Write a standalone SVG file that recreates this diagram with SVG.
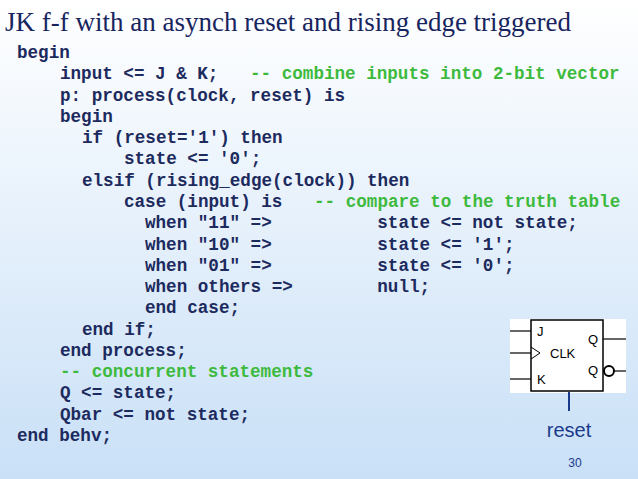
<svg xmlns="http://www.w3.org/2000/svg" width="638" height="479" viewBox="0 0 638 479">
<defs><linearGradient id="bg" x1="0" y1="0" x2="0" y2="1"><stop offset="0" stop-color="#ffffff"/><stop offset="1" stop-color="#c9e0f7"/></linearGradient></defs>
<style>
.c{font-family:"Liberation Mono",monospace;font-weight:bold;font-size:17.6px;fill:#1c2a5e;white-space:pre}
.g{fill:#3dba3d}
.l{stroke:#000;stroke-width:1.5;fill:none}
.s{font-family:"Liberation Sans",Arial,sans-serif;font-size:13px;fill:#000}
</style>
<rect width="638" height="479" fill="url(#bg)"/>
<text x="5" y="31" font-family="Liberation Serif,serif" font-size="27" fill="#17245e">JK f-f with an asynch reset and rising edge triggered</text>
<g id="code">
<text class="c" x="17" y="58">begin</text>
<text class="c" x="60" y="79">input &lt;= J &amp; K;   <tspan class="g">-- combine inputs into 2-bit vector</tspan></text>
<text class="c" x="60" y="101">p: process(clock, reset) is</text>
<text class="c" x="60" y="122">begin</text>
<text class="c" x="82" y="143">if (reset='1') then</text>
<text class="c" x="124" y="164">state &lt;= '0';</text>
<text class="c" x="82" y="186">elsif (rising_edge(clock)) then</text>
<text class="c" x="124" y="207">case (input) is   <tspan class="g">-- compare to the truth table</tspan></text>
<text class="c" x="145" y="228">when "11" =&gt;          state &lt;= not state;</text>
<text class="c" x="145" y="250">when "10" =&gt;          state &lt;= '1';</text>
<text class="c" x="145" y="271">when "01" =&gt;          state &lt;= '0';</text>
<text class="c" x="145" y="292">when others =&gt;        null;</text>
<text class="c" x="145" y="313">end case;</text>
<text class="c" x="82" y="335">end if;</text>
<text class="c" x="60" y="356">end process;</text>
<text class="c g" x="60" y="377">-- concurrent statements</text>
<text class="c" x="60" y="398">Q &lt;= state;</text>
<text class="c" x="60" y="420">Qbar &lt;= not state;</text>
<text class="c" x="17" y="441">end behv;</text>
</g>
<g id="jkff">
<rect x="510" y="319" width="116" height="74" fill="#fff"/>
<rect x="531" y="320" width="72" height="71" class="l"/>
<text class="s" x="537" y="336">J</text>
<text class="s" x="550" y="358">CLK</text>
<text class="s" x="537" y="384">K</text>
<text class="s" x="588" y="344">Q</text>
<text class="s" x="588" y="375">Q</text>
<polyline points="531,347 540,353 531,359" fill="none" stroke="#000" stroke-width="1"/>
<circle cx="609" cy="371" r="5" fill="#fff" stroke="#000" stroke-width="2"/>
</g>
<g id="connectors" stroke="#000" stroke-width="1.2">
<line x1="510" y1="331" x2="531" y2="331"/>
<line x1="510" y1="353" x2="531" y2="353"/>
<line x1="510" y1="379" x2="531" y2="379"/>
<line x1="603" y1="339" x2="626" y2="339"/>
<line x1="614" y1="371" x2="626" y2="371"/>
<line x1="569" y1="392" x2="569" y2="411" stroke="#1a3a8c" stroke-width="2"/>
</g>
<text x="569" y="437" text-anchor="middle" font-family="Liberation Sans,Arial,sans-serif" font-size="20" fill="#1a3a8c">reset</text>
<text x="575" y="467" text-anchor="middle" font-family="Liberation Sans,Arial,sans-serif" font-size="12" fill="#1a3a8c">30</text>
</svg>
